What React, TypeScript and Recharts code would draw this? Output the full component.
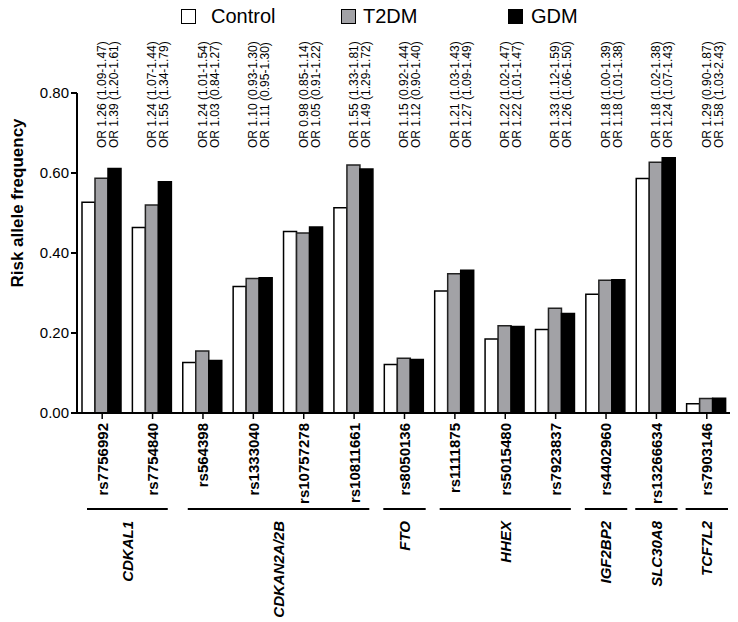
import React from "react"
import { BarChart, Bar, XAxis, YAxis, LabelList } from "recharts"

const snps = [
    "rs7756992", "rs7754840", "rs564398", "rs1333040", "rs10757278", "rs10811661", "rs8050136",
    "rs1111875", "rs5015480", "rs7923837", "rs4402960", "rs13266634", "rs7903146",
]
const control = [0.527, 0.464, 0.126, 0.316, 0.454, 0.513, 0.121, 0.305, 0.185, 0.209, 0.297, 0.586, 0.023]
const t2dm = [0.587, 0.52, 0.155, 0.336, 0.45, 0.62, 0.137, 0.348, 0.218, 0.262, 0.332, 0.627, 0.036]
const gdm = [0.611, 0.578, 0.131, 0.338, 0.465, 0.61, 0.134, 0.357, 0.216, 0.249, 0.333, 0.638, 0.037]

const orT2dm = [
    "1.26 (1.09-1.47)", "1.24 (1.07-1.44)", "1.24 (1.01-1.54)", "1.10 (0.93-1.30)", "0.98 (0.85-1.14)",
    "1.55 (1.33-1.81)", "1.15 (0.92-1.44)", "1.21 (1.03-1.43)", "1.22 (1.02-1.47)", "1.33 (1.12-1.59)",
    "1.18 (1.00-1.39)", "1.18 (1.02-1.38)", "1.29 (0.90-1.87)",
]
const orGdm = [
    "1.39 (1.20-1.61)", "1.55 (1.34-1.79)", "1.03 (0.84-1.27)", "1.11 (0.95-1.30)", "1.05 (0.91-1.22)",
    "1.49 (1.29-1.72)", "1.12 (0.90-1.40)", "1.27 (1.09-1.49)", "1.22 (1.01-1.47)", "1.26 (1.06-1.50)",
    "1.18 (1.01-1.38)", "1.24 (1.07-1.43)", "1.58 (1.03-2.43)",
]

const genes = ["CDKAL1", "CDKAN2A/2B", "FTO", "HHEX", "IGF2BP2", "SLC30A8", "TCF7L2"]
const geneSizes = [2, 4, 1, 3, 1, 1, 1]

const yTicks = [0, 0.2, 0.4, 0.6, 0.8]

const FONT = "'Liberation Sans', Arial, sans-serif"
const W = 730
const H = 614
const M = { top: 85, right: 6, left: 0, bottom: 0 }
const Y_W = 69
const PLOT_BOTTOM = 405
const BAND = (W - M.right - Y_W) / snps.length

const data = snps.map((s, i) => ({
    snp: s,
    control: control[i],
    t2dm: t2dm[i],
    gdm: gdm[i],
    or1: "OR " + orT2dm[i],
    or2: "OR " + orGdm[i],
}))

// first snp index of every gene group
const groupStart: number[] = []
geneSizes.reduce((acc, n) => { groupStart.push(acc); return acc + n }, 0)

function SnpTick(props: any) {
    const { x, payload } = props
    const i = payload.index
    const ty = PLOT_BOTTOM + 10
    const g = groupStart.indexOf(i)
    let gene = null
    if (g >= 0) {
        const n = geneSizes[g]
        const inset = n > 1 ? 10 : 4
        const x1 = x - BAND / 2 + inset
        const x2 = x + (n - 1) * BAND + BAND / 2 - inset
        const cx = x + ((n - 1) / 2) * BAND
        gene = (
            <g>
                <line x1={x1} x2={x2} y1={501} y2={501} stroke="#000" strokeWidth={2} />
                <text x={cx} y={513} dy="0.36em" transform={`rotate(-90, ${cx}, 513)`} textAnchor="end"
                    fontFamily={FONT} fontSize={15} fontWeight="bold" fontStyle="italic" fill="#000">
                    {genes[g]}
                </text>
            </g>
        )
    }
    return (
        <g>
            <text x={x} y={ty} dy="0.36em" transform={`rotate(-90, ${x}, ${ty})`} textAnchor="end"
                fontFamily={FONT} fontSize={15} fontWeight="bold" fill="#000">
                {payload.value}
            </text>
            {gene}
        </g>
    )
}

function OrLabel(props: any) {
    const vb = props.viewBox ?? props
    const cx = vb.x + vb.width * 1.5
    const i = props.index
    const y = 140
    return (
        <g fontFamily={FONT} fontSize={12} fill="#000">
            <text x={cx + 4.5} y={y} transform={`rotate(-90, ${cx + 4.5}, ${y})`}>{data[i].or1}</text>
            <text x={cx + 16.5} y={y} transform={`rotate(-90, ${cx + 16.5}, ${y})`}>{data[i].or2}</text>
        </g>
    )
}

function YLabel() {
    return (
        <text x={15} y={195} transform="rotate(-90, 15, 195)" textAnchor="middle"
            fontFamily={FONT} fontSize={17} fontWeight="bold" fill="#000">
            Risk allele frequency
        </text>
    )
}

const legendItems = [
    { name: "Control", color: "#fff", left: 173, textLeft: 203 },
    { name: "T2DM", color: "#a2a2a6", left: 333, textLeft: 355 },
    { name: "GDM", color: "#000", left: 500, textLeft: 523 },
]

export default function App() {
    return (
        <div style={{ position: "relative", width: W, height: H }}>
            <BarChart width={W} height={H} data={data} margin={M} barCategoryGap={5} barGap={0}>
                <XAxis dataKey="snp" interval={0} height={H - PLOT_BOTTOM - M.bottom}
                    axisLine={{ stroke: "#000", strokeWidth: 2 }}
                    tickLine={{ stroke: "#000", strokeWidth: 1.5 }} tickSize={6}
                    tick={<SnpTick />} />
                <YAxis width={Y_W} domain={[0, 0.8]} ticks={yTicks} tickFormatter={(v: number) => v.toFixed(2)}
                    axisLine={{ stroke: "#000", strokeWidth: 2 }}
                    tickLine={{ stroke: "#000", strokeWidth: 2 }} tickSize={6}
                    tick={{ fill: "#000", fontSize: 15, fontFamily: FONT }}
                    label={{ content: () => <YLabel /> }} />
                <Bar dataKey="control" fill="#fff" stroke="#000" strokeWidth={1.5} isAnimationActive={false}>
                    <LabelList dataKey="or1" content={<OrLabel />} />
                </Bar>
                <Bar dataKey="t2dm" fill="#a2a2a6" stroke="#222" strokeWidth={1.5} isAnimationActive={false} />
                <Bar dataKey="gdm" fill="#000" stroke="#000" strokeWidth={1.5} isAnimationActive={false} />
            </BarChart>
            {legendItems.map((it) => (
                <React.Fragment key={it.name}>
                    <div style={{
                        position: "absolute", left: it.left, top: 1, width: 13, height: 13,
                        background: it.color, border: "1px solid #000",
                    }} />
                    <div style={{
                        position: "absolute", left: it.textLeft, top: -4, fontFamily: FONT, fontSize: 20,
                        lineHeight: "24px", color: "#000",
                    }}>{it.name}</div>
                </React.Fragment>
            ))}
        </div>
    )
}
